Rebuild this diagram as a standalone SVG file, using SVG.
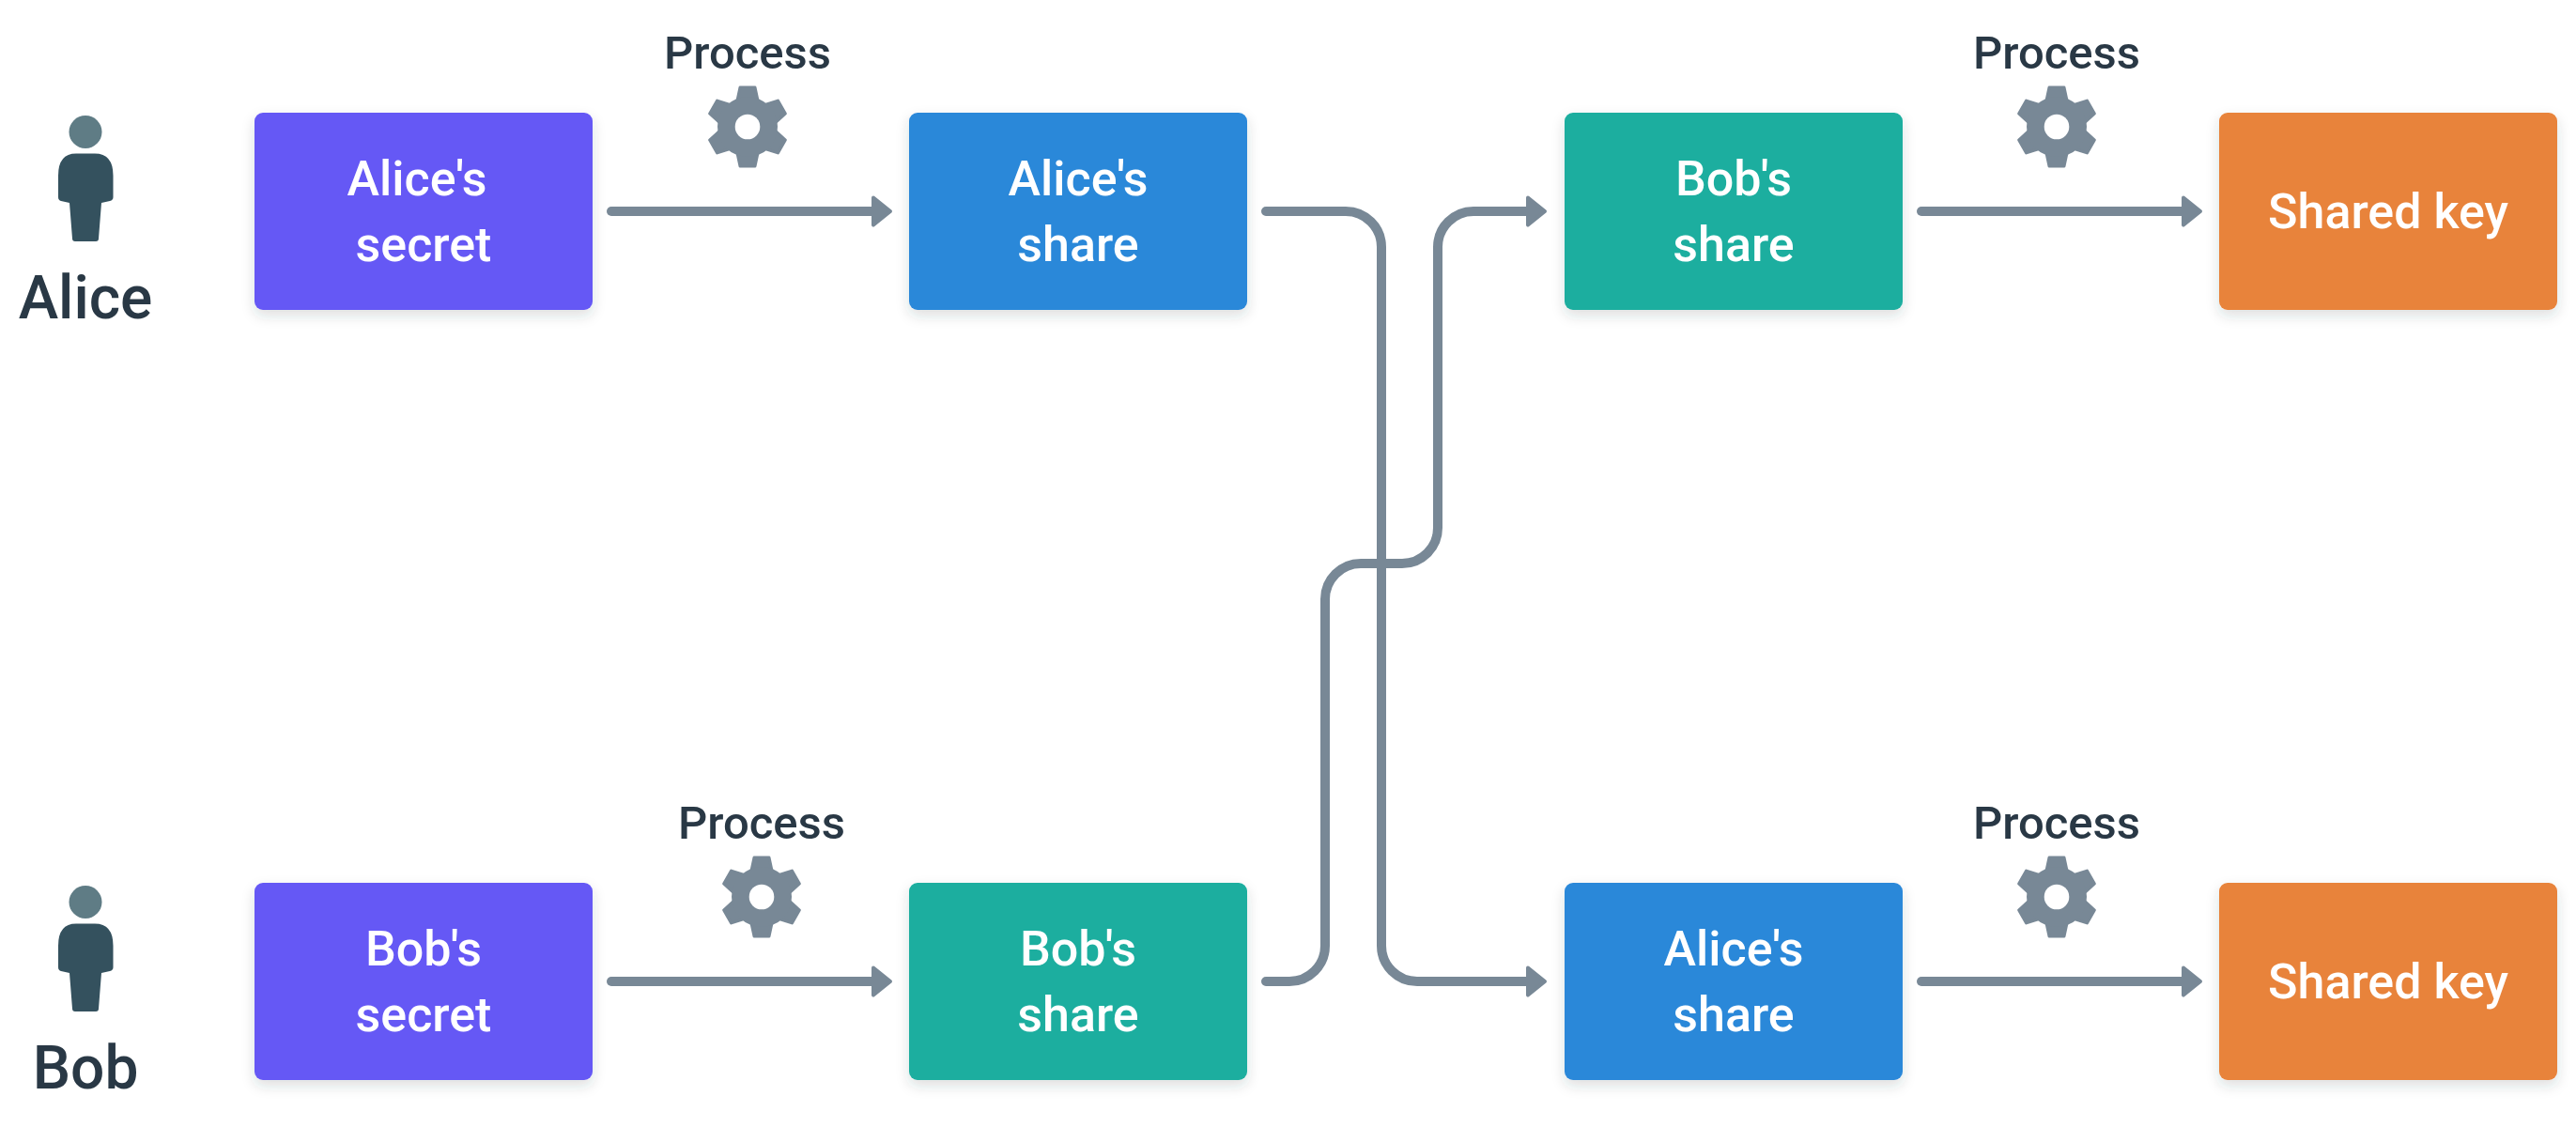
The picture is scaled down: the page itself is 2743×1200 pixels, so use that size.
<svg xmlns="http://www.w3.org/2000/svg" width="2743" height="1200" viewBox="0 0 2743 1200">
<style>
text{font-family:"Roboto","Liberation Sans",sans-serif;text-anchor:middle}
.n{fill:#fff;font-size:52px;font-weight:500}
.l{fill:#293845;font-size:64px;font-weight:500}
.p{fill:#293845;font-size:49px;font-weight:500}
.c{fill:none;stroke:#788896;stroke-width:10;stroke-linecap:round;marker-end:url(#a)}
.purple{fill:#6558F5}.blue{fill:#2C88D9}.teal{fill:#1AAE9F}.orange{fill:#E8833A}
.box{filter:url(#s)}
</style>
<defs>
<filter id="s" x="-10%" y="-10%" width="120%" height="125%"><feDropShadow dx="0" dy="6" stdDeviation="7" flood-color="#293845" flood-opacity=".16"/></filter>
<marker id="a" markerUnits="userSpaceOnUse" markerWidth="34" markerHeight="44" refX="3" refY="22" orient="auto"><path d="M3 7.500 L21 22 L3 36.500Z" fill="#788896" stroke="#788896" stroke-width="4" stroke-linejoin="round"/></marker>
<g id="gear"><path fill="#788896" stroke="#788896" stroke-width="3" stroke-linejoin="round" id="t" d="M-8-42 L8-42 L11-28 L-11-28Z"/>
<use href="#t" transform="rotate(60)"/><use href="#t" transform="rotate(120)"/><use href="#t" transform="rotate(180)"/><use href="#t" transform="rotate(240)"/><use href="#t" transform="rotate(300)"/>
<circle r="32" fill="#788896"/><circle r="13.300" fill="#fff"/></g>
<g id="person"><ellipse cx="91" cy="140.500" rx="17.500" ry="17.500" fill="#5F7C85"/><path fill="#34515E" d="M81 163.500H101Q120.500 163.500 120.500 187V210Q120.500 213 117 214L108 216L105 254Q105 257 102 257H80Q77 257 77 254L74 216L65 214Q62 213 62 210V187Q62 163.500 81 163.500Z"/></g>
</defs>
<rect width="2743" height="1200" fill="#fff"/>
<g id="connectors">
<path class="c" d="M651 225H930"/>
<path class="c" d="M1348 225H1433A38 38 0 0 1 1471 263V1007A38 38 0 0 0 1509 1045H1627"/>
<path class="c" d="M1348 1045H1373A38 38 0 0 0 1411 1007V638A38 38 0 0 1 1449 600H1493A38 38 0 0 0 1531 562V263A38 38 0 0 1 1569 225H1627"/>
<path class="c" d="M2046 225H2325"/>
<path class="c" d="M651 1045H930"/>
<path class="c" d="M2046 1045H2325"/>
</g>
<g id="alice"><use href="#person"/><text class="l" x="91" y="339">Alice</text></g>
<g id="bob"><use href="#person" y="820"/><text class="l" x="91" y="1159">Bob</text></g>
<g id="alice-secret"><rect class="box purple" x="271" y="120" width="360" height="210" rx="9"/><text class="n" x="444" y="208">Alice's</text><text class="n" x="451" y="278">secret</text></g>
<g id="alice-share"><rect class="box blue" x="968" y="120" width="360" height="210" rx="9"/><text class="n" x="1148" y="208">Alice's</text><text class="n" x="1148" y="278">share</text></g>
<g id="bob-share-top"><rect class="box teal" x="1666" y="120" width="360" height="210" rx="9"/><text class="n" x="1846" y="208">Bob's</text><text class="n" x="1846" y="278">share</text></g>
<g id="key-top"><rect class="box orange" x="2363" y="120" width="360" height="210" rx="9"/><text class="n" x="2543" y="243">Shared key</text></g>
<g id="bob-secret"><rect class="box purple" x="271" y="940" width="360" height="210" rx="9"/><text class="n" x="451" y="1028">Bob's</text><text class="n" x="451" y="1098">secret</text></g>
<g id="bob-share"><rect class="box teal" x="968" y="940" width="360" height="210" rx="9"/><text class="n" x="1148" y="1028">Bob's</text><text class="n" x="1148" y="1098">share</text></g>
<g id="alice-share-bottom"><rect class="box blue" x="1666" y="940" width="360" height="210" rx="9"/><text class="n" x="1846" y="1028">Alice's</text><text class="n" x="1846" y="1098">share</text></g>
<g id="key-bottom"><rect class="box orange" x="2363" y="940" width="360" height="210" rx="9"/><text class="n" x="2543" y="1063">Shared key</text></g>
<g id="process-1"><text class="p" x="796" y="73">Process</text><use href="#gear" x="796" y="135"/></g>
<g id="process-2"><text class="p" x="2190" y="73">Process</text><use href="#gear" x="2190" y="135"/></g>
<g id="process-3"><text class="p" x="811" y="893">Process</text><use href="#gear" x="811" y="955"/></g>
<g id="process-4"><text class="p" x="2190" y="893">Process</text><use href="#gear" x="2190" y="955"/></g>
</svg>
